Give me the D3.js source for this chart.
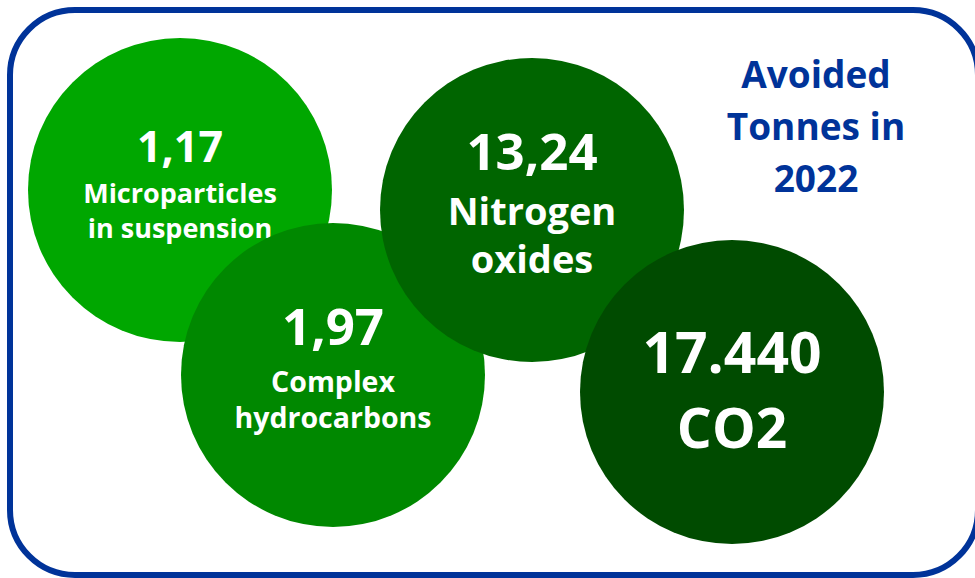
<!DOCTYPE html>
<html>
<head>
<meta charset="utf-8">
<script src="https://cdn.jsdelivr.net/npm/d3@7"></script>
<style>
  body { margin: 0; background: #fff; }
  svg text { font-family: "Open Sans", "Noto Sans", sans-serif; font-weight: 700; }
</style>
</head>
<body>
<svg width="975" height="578"></svg>
<script>
// avoided emissions, tonnes in 2022
const values = ["1,17", "1,97", "13,24", "17.440"];
const labels = [
  ["Microparticles", "in suspension"],
  ["Complex", "hydrocarbons"],
  ["Nitrogen", "oxides"],
  ["CO2"]
];
const title = ["Avoided", "Tonnes in", "2022"];

const svg = d3.select("svg");

// hand placed bubbles, same as the original infographic
const spots = [
  {cx: 180, cy: 190, fill: "#00a700", valueSize: 43, labelSize: 27, dy: [-28, 13, 48]},
  {cx: 333, cy: 375, fill: "#008800", valueSize: 51, labelSize: 28.5, dy: [-30, 17, 53]},
  {cx: 532, cy: 210, fill: "#006500", valueSize: 51, labelSize: 38, dy: [-40, 15, 63]},
  {cx: 732, cy: 392, fill: "#004b00", valueSize: 57, labelSize: 55, dy: [-19, 56]}
];
const radius = 152;

// frame
svg.append("rect")
  .attr("x", 10)
  .attr("y", 10)
  .attr("width", 968)
  .attr("height", 565)
  .attr("rx", 65)
  .attr("fill", "none")
  .attr("stroke", "#003399")
  .attr("stroke-width", 6);

const data = values.map((v, i) => ({value: v, lines: labels[i], ...spots[i]}));

// one group per bubble so later bubbles cover earlier text
const bubble = svg.selectAll("g.bubble")
  .data(data)
  .enter()
  .append("g")
  .attr("class", "bubble")
  .attr("transform", d => `translate(${d.cx},${d.cy})`);

bubble.append("circle")
  .attr("r", radius)
  .attr("fill", d => d.fill);

bubble.append("text")
  .attr("text-anchor", "middle")
  .attr("fill", "#fff")
  .attr("y", d => d.dy[0])
  .style("font-size", d => d.valueSize + "px")
  .text(d => d.value);

bubble.each(function(d) {
  d3.select(this).selectAll("text.label")
    .data(d.lines)
    .enter()
    .append("text")
    .attr("class", "label")
    .attr("text-anchor", "middle")
    .attr("fill", "#fff")
    .attr("y", (t, i) => d.dy[i + 1])
    .style("font-size", d.labelSize + "px")
    .text(t => t);
});

// title, top right
svg.append("g")
  .selectAll("text")
  .data(title)
  .enter()
  .append("text")
  .attr("x", 816)
  .attr("y", (t, i) => 88 + i * 52)
  .attr("text-anchor", "middle")
  .attr("fill", "#003399")
  .style("font-size", "37px")
  .text(t => t);
</script>
</body>
</html>
